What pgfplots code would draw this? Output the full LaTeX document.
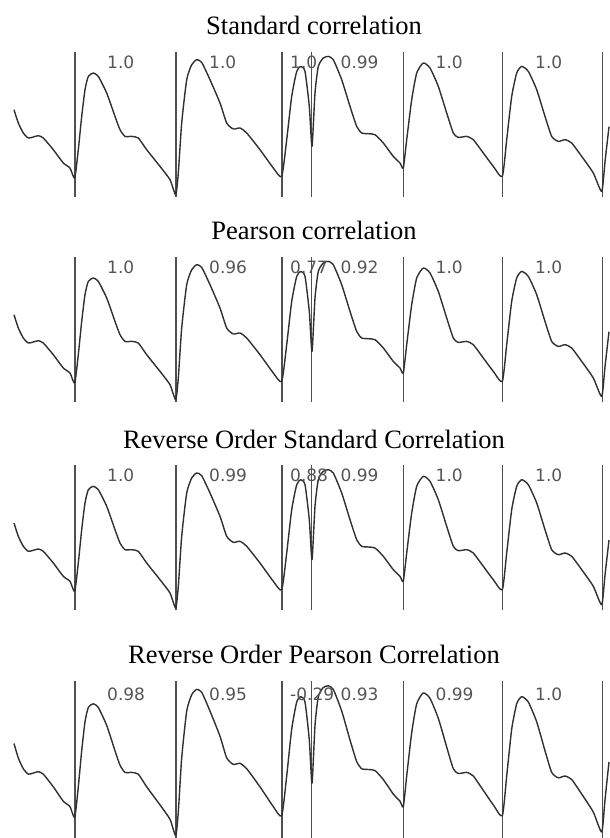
\documentclass[border=0pt]{standalone}
\usepackage{pgfplots}
\pgfplotsset{compat=1.18}
\usepackage{pgfplotstable}
\usepackage{fontspec}
\setmainfont{Liberation Serif}
\newfontfamily\numfont{DejaVu Sans}
\definecolor{wave}{HTML}{303030}
\definecolor{marker}{HTML}{505050}
\definecolor{lab}{HTML}{555555}

% pulse trace, x in samples, y in height above the panel floor
\pgfplotstableread{
x y
14 87
18.3 73.7
23.3 63.7
28.3 58.7
33.3 59.7
38.3 61
43.3 58.7
53.3 47
63.3 33.7
70 28.7
74.7 18.7
78.3 47
81.7 80.3
85 107
88.3 120.3
93.3 123.7
98.3 120.3
106.7 103.7
115 80.3
120 67
125 60.3
131.7 60.3
138.3 58.7
146.7 47
160 30.3
170 17
175.7 2
178.3 23.7
181.7 73.7
186.7 117
191.7 132
196.7 137
201.7 134.3
210 117
220 93.7
226.7 73.7
233.3 67.7
240 68.7
246.7 63.7
260 47
273.3 28.7
281.7 20.3
286.7 57
291.7 100.3
296.7 125.3
300.7 130.3
305 125.3
309.3 90.3
312 50.3
315 103.7
318.3 130.3
323.3 138.7
328.3 140.3
333.3 137
341.7 117
350 90.3
356.7 70.3
361.7 63.7
368.3 63
375 62
383.3 53.7
393.3 40.3
400 33.7
403.3 28.7
406.7 57
411.7 97
416.7 123.7
423.3 133.7
430 128.7
438.3 110.3
446.7 83.7
453.3 63.7
458.3 59.3
466.7 60.3
473.3 57
483.3 43.7
493.3 30.3
502.3 20.3
506.7 57
511.7 100.3
516.7 123.7
521.7 130.3
528.3 125.3
536.7 107
545 80.3
551.7 60.3
558.3 55.3
565 57
571.7 53.7
581.7 40.3
593.3 23.7
601.7 5.3
605 35
609 70
}\wavetable

% beat boundaries
\pgfplotstableread{
x y
74.7 0
74.7 145
nan nan
175.7 0
175.7 145
nan nan
281.7 0
281.7 145
nan nan
311.5 0
311.5 145
nan nan
403.3 0
403.3 145
nan nan
502.5 0
502.5 145
nan nan
602.5 0
602.5 145
}\beattable

\pgfplotsset{
  every axis title/.style={font=\fontsize{26.5}{30}\selectfont,
    anchor=base, at={(axis cs:314,145)}, yshift=17pt},
  panel/.style={
    hide axis, scale only axis, clip=false,
    width=610pt, height=145pt,
    xmin=0, xmax=610, ymin=0, ymax=145,
    anchor=north west, unbounded coords=jump,
  },
  corr/.style={draw=none, mark=none, nodes near coords,
    point meta=explicit symbolic,
    nodes near coords style={anchor=base west, inner sep=0pt,
      font=\numfont\fontsize{17}{20}\selectfont, text=lab}},
  beats/.style={marker, line width=1.6pt},
  trace/.style={wave, line width=1.4pt, line join=round, smooth, tension=0.35},
}

\begin{document}
\begin{tikzpicture}
\begin{axis}[panel, at={(0pt,-51.7pt)}, title={Standard correlation}]
  \addplot[beats] table {\beattable};
  \addplot[trace] table {\wavetable};
  \addplot[corr] table[meta=c] {
x y c
107 128.4 1.0
209 128.4 1.0
290 128.4 1.0
340.5 128.4 0.99
435.5 128.4 1.0
535 128.4 1.0
};
\end{axis}
\begin{axis}[panel, at={(0pt,-256.7pt)}, title={Pearson correlation}]
  \addplot[beats] table {\beattable};
  \addplot[trace] table {\wavetable};
  \addplot[corr] table[meta=c] {
x y c
107 128.4 1.0
209 128.4 0.96
290 128.4 0.77
340.5 128.4 0.92
435.5 128.4 1.0
535 128.4 1.0
};
\end{axis}
\begin{axis}[panel, at={(0pt,-465pt)}, title={Reverse Order Standard Correlation}]
  \addplot[beats] table {\beattable};
  \addplot[trace] table {\wavetable};
  \addplot[corr] table[meta=c] {
x y c
107 128.4 1.0
209 128.4 0.99
290 128.4 0.88
340.5 128.4 0.99
435.5 128.4 1.0
535 128.4 1.0
};
\end{axis}
\begin{axis}[panel, at={(0pt,-680.7pt)}, height=157pt,
  title={Reverse Order Pearson Correlation}]
  \addplot[beats] table {\beattable};
  \addplot[trace] table {\wavetable};
  \addplot[corr] table[meta=c] {
x y c
107 127 0.98
209 127 0.95
290 127 -0.29
340.5 127 0.93
435.5 127 0.99
535 127 1.0
};
\end{axis}
\pgfresetboundingbox
\useasboundingbox (0pt,0pt) rectangle (610pt,-838pt);
\end{tikzpicture}
\end{document}
